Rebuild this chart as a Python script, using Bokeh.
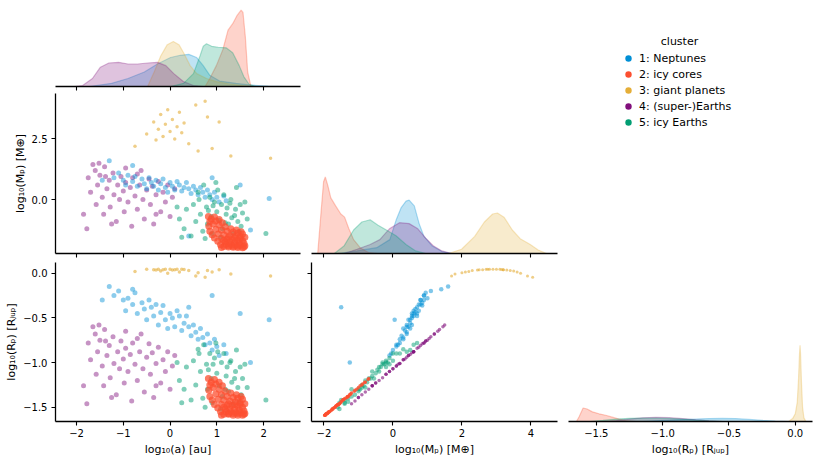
from bokeh.plotting import figure
from bokeh.layouts import row, column, Spacer
from bokeh.models import (Range1d, FixedTicker, CustomJSTickFormatter, LinearAxis,
                          Legend, LegendItem, Label)
from bokeh.embed import file_html
from bokeh.resources import INLINE

FONT = "DejaVu Sans"

# ---------------- categories ----------------
clusters = ["1: Neptunes", "2: icy cores", "3: giant planets", "4: (super-)Earths", "5: icy Earths"]
colors = ["#008fd5", "#fc4f30", "#e5ae38", "#810f7c", "#029e73"]

# ---------------- scatter samples (log10 a [au], log10 M [Mearth], log10 R [RJup]) ----------------
a_c1 = [-1.20, -1.10, -1.00, -0.95, -0.90, -0.80, -0.75, -0.70, -0.60, -0.55, -0.50, -0.45, -0.40, -0.35,
        -0.30, -0.25, -0.20, -0.15, -0.10, -0.05, 0.00, 0.05, 0.10, 0.15, 0.20, 0.25, 0.30, 0.35, 0.40,
        0.45, 0.50, 0.55, 0.60, 0.65, 0.70, 0.75, 0.80, 0.85, 0.90, 0.95, 1.00, 1.05, 1.15, 1.20,
        -1.30, -0.80, 1.72, 2.12, 1.50, 0.90, -1.45, 0.40]
m_c1 = [0.90, 1.10, 0.80, 0.60, 1.00, 0.75, 0.95, 0.55, 0.85, 0.65, 0.45, 0.90, 0.70, 0.55,
        0.80, 0.40, 0.65, 0.85, 0.50, 0.30, 0.70, 0.55, 0.40, 0.75, 0.60, 0.35, 0.50, 0.70, 0.45,
        0.25, 0.55, 0.40, 0.20, 0.50, 0.30, 0.10, 0.40, 0.20, 0.00, 0.30, 0.10, -0.10, 0.15, -0.05,
        1.60, 1.40, -1.25, 0.05, 0.60, 0.90, 0.80, -1.50]
r_c1 = [-0.25, -0.20, -0.30, -0.42, -0.28, -0.35, -0.22, -0.45, -0.33, -0.40, -0.52, -0.30, -0.38, -0.48,
        -0.35, -0.58, -0.44, -0.36, -0.52, -0.62, -0.45, -0.50, -0.60, -0.42, -0.48, -0.64, -0.56, -0.48, -0.60,
        -0.70, -0.58, -0.66, -0.74, -0.62, -0.72, -0.80, -0.68, -0.78, -0.86, -0.74, -0.82, -0.92, -0.80, -0.90,
        -0.15, -0.18, -1.00, -0.52, -0.45, -0.25, -0.30, -0.38]

a_c2 = [1.55, 1.45, 1.35, 1.25, 1.15, 1.60, 1.50, 1.40, 1.30, 1.20, 1.08, 1.58, 1.48, 1.38, 1.28, 1.18,
        1.02, 1.55, 1.45, 1.33, 1.22, 1.10, 0.95, 1.60, 1.50, 1.40, 1.28, 1.15, 1.03, 0.90, 1.55, 1.45,
        1.35, 1.22, 1.10, 0.98, 0.85, 1.30, 1.18, 1.05, 0.92, 0.83, 1.12, 0.98, 0.88, 0.82, 0.95, 1.05,
        0.85, 1.42, 1.52, 1.35, 1.45, 1.25, 1.58, 1.10, 1.38, 1.25, 1.50, 1.15]
m_c2 = [-1.98, -1.97, -1.96, -1.95, -1.93, -1.90, -1.88, -1.87, -1.85, -1.84, -1.86, -1.80, -1.78, -1.76,
        -1.75, -1.74, -1.72, -1.68, -1.66, -1.64, -1.62, -1.60, -1.58, -1.55, -1.52, -1.50, -1.48, -1.45,
        -1.42, -1.45, -1.42, -1.38, -1.33, -1.30, -1.25, -1.22, -1.30, -1.20, -1.12, -1.05, -1.00, -1.10,
        -0.95, -0.88, -0.80, -0.70, -0.72, -0.82, -0.90, -1.25, -1.32, -1.92, -1.92, -1.90, -1.95, -1.97,
        -1.58, -1.55, -1.60, -1.68]
r_c2 = [-1.59, -1.59, -1.59, -1.58, -1.58, -1.57, -1.56, -1.56, -1.55, -1.55, -1.55, -1.54, -1.53, -1.52,
        -1.52, -1.52, -1.51, -1.50, -1.49, -1.48, -1.48, -1.47, -1.47, -1.46, -1.45, -1.44, -1.43, -1.42,
        -1.41, -1.42, -1.41, -1.40, -1.39, -1.38, -1.36, -1.35, -1.38, -1.34, -1.32, -1.30, -1.28, -1.31,
        -1.26, -1.24, -1.22, -1.18, -1.19, -1.22, -1.25, -1.36, -1.38, -1.57, -1.57, -1.57, -1.58, -1.59,
        -1.47, -1.46, -1.47, -1.50]

a_c3 = [-0.50, -0.35, -0.25, -0.20, -0.15, -0.10, -0.05, 0.00, 0.05, 0.10, 0.15, 0.20, 0.25, 0.30,
        0.40, 0.55, 0.75, 0.90, 1.05, 1.30, -0.75, 0.80, 2.15, 0.60, -0.30]
m_c3 = [2.70, 3.20, 2.90, 3.50, 2.60, 3.10, 3.70, 2.80, 3.30, 2.50, 3.00, 3.60, 2.75, 3.15,
        2.30, 3.90, 4.05, 2.10, 3.20, 1.80, 2.20, 3.40, 1.70, 2.00, 2.45]
r_c3 = [0.045, 0.040, 0.045, 0.025, 0.040, 0.045, 0.000, 0.045, 0.035, 0.040, 0.045, 0.015, 0.045, 0.042,
        0.030, -0.030, -0.045, 0.015, 0.040, -0.010, 0.020, 0.030, -0.030, 0.005, 0.035]

a_c4 = [-1.75, -1.70, -1.65, -1.60, -1.58, -1.55, -1.50, -1.45, -1.42, -1.40, -1.35, -1.30, -1.28, -1.22,
        -1.20, -1.15, -1.12, -1.08, -1.05, -1.00, -0.98, -0.95, -0.90, -0.85, -0.82, -0.80, -0.75, -0.70,
        -0.65, -0.62, -0.58, -0.55, -0.50, -0.45, -0.42, -0.38, -0.35, -0.30, -0.25, -0.20, -0.15, -0.10,
        -0.05, 0.00, 0.05, 0.10, -1.85, -1.78, -1.25, -0.95, -1.52, -0.70, -0.30, -1.38]
m_c4 = [0.90, 0.30, 1.45, 1.20, -0.20, 0.60, 1.00, 0.10, -0.60, 1.35, 0.45, 0.80, -0.30, 1.10,
        0.20, -0.90, 0.60, 0.00, 0.95, 0.35, -0.50, 0.70, -0.10, 0.50, -1.10, 0.90, 0.15, -0.40,
        0.60, 1.20, 0.00, -0.80, 0.40, 0.85, -0.20, 0.55, -1.00, 0.20, 0.75, -0.50, 0.30, -0.10,
        0.60, -0.70, 0.10, 0.45, -0.60, -1.20, -1.00, 1.30, 1.50, 1.05, -0.60, 0.95]
r_c4 = [-0.78, -0.97, -0.60, -0.68, -1.13, -0.88, -0.75, -1.04, -1.26, -0.63, -0.92, -0.81, -1.17, -0.71,
        -1.01, -1.36, -0.88, -1.07, -0.76, -0.96, -1.23, -0.84, -1.10, -0.91, -1.43, -0.78, -1.02, -1.20,
        -0.88, -0.68, -1.07, -1.33, -0.94, -0.79, -1.13, -0.89, -1.39, -1.01, -0.83, -1.23, -0.97, -1.10,
        -0.88, -1.30, -1.04, -0.92, -1.26, -1.46, -1.39, -0.65, -0.58, -0.73, -1.26, -0.76]

a_c5 = [0.20, 0.30, 0.35, 0.45, 0.50, 0.55, 0.60, 0.65, 0.70, 0.72, 0.78, 0.80, 0.85, 0.88, 0.90, 0.95,
        1.00, 1.02, 1.05, 1.10, 1.12, 1.15, 1.20, 1.22, 1.25, 1.30, 1.32, 1.35, 1.40, 1.42, 1.45, 1.50,
        1.52, 1.55, 1.60, 1.65, 0.98, 0.75, 0.25, 1.08, 0.15, 0.62, 1.18, 0.92, 1.28, 1.38, 0.82, 1.48, 2.05]
m_c5 = [-0.80, -1.20, -0.40, -1.50, -0.20, -0.90, 0.30, -0.60, -1.30, 0.60, -0.30, -1.00, 0.10, -0.70,
        -1.40, -0.10, -0.50, 0.40, -0.85, -0.20, -1.20, 0.20, -0.60, -0.35, -1.00, 0.00, -0.75, -1.40,
        -0.40, 0.50, -0.90, -0.20, -1.10, -0.55, -0.10, -0.80, 0.70, -1.60, -1.55, -1.55, -0.30, 0.00,
        -0.95, -0.25, -0.15, -0.65, -0.45, -1.30, -1.40]
r_c5 = [-1.20, -1.30, -1.05, -1.42, -0.98, -1.25, -0.85, -1.10, -1.40, -0.80, -1.02, -1.30, -0.90, -1.18,
        -1.45, -0.95, -1.12, -0.88, -1.26, -1.00, -1.38, -0.90, -1.15, -1.05, -1.32, -0.98, -1.22, -1.46,
        -1.10, -0.86, -1.28, -1.05, -1.36, -1.18, -1.02, -1.28, -0.78, -1.50, -1.45, -1.52, -1.00, -0.90,
        -1.30, -1.02, -1.00, -1.18, -1.08, -1.44, -1.42]

a_vals = [a_c1, a_c2, a_c3, a_c4, a_c5]
m_vals = [m_c1, m_c2, m_c3, m_c4, m_c5]
r_vals = [r_c1, r_c2, r_c3, r_c4, r_c5]

# ---------------- KDE curves ----------------
kde_a_x = [
    [-1.73, -1.25, -0.90, -0.55, -0.27, 0.01, 0.22, 0.40, 0.57, 0.71, 0.85, 1.06, 1.41, 1.69, 2.10, 2.50],
    [0.75, 0.85, 0.99, 1.13, 1.24, 1.34, 1.43, 1.52, 1.56, 1.61, 1.66, 1.73],
    [-0.48, -0.34, -0.20, -0.06, 0.07, 0.19, 0.29, 0.43, 0.57, 0.78, 0.99, 1.27, 1.55, 1.80],
    [-2.05, -1.87, -1.66, -1.49, -1.31, -1.10, -0.90, -0.69, -0.48, -0.27, -0.09, 0.08, 0.29, 0.50, 0.71],
    [0.01, 0.29, 0.50, 0.64, 0.71, 0.78, 0.89, 1.03, 1.20, 1.34, 1.48, 1.58, 1.69, 1.83],
]
kde_a_d = [
    [0, 0.033, 0.083, 0.15, 0.233, 0.30, 0.323, 0.333, 0.30, 0.216, 0.116, 0.056, 0.033, 0.016, 0.003, 0],
    [0, 0.083, 0.216, 0.383, 0.583, 0.65, 0.733, 0.79, 0.766, 0.516, 0.15, 0],
    [0, 0.15, 0.316, 0.433, 0.466, 0.433, 0.35, 0.216, 0.133, 0.083, 0.05, 0.026, 0.01, 0],
    [0, 0.01, 0.083, 0.20, 0.243, 0.25, 0.233, 0.233, 0.243, 0.25, 0.216, 0.133, 0.05, 0.01, 0],
    [0, 0.033, 0.133, 0.316, 0.416, 0.443, 0.416, 0.406, 0.40, 0.35, 0.216, 0.10, 0.023, 0],
]
kde_m_x = [
    [-1.61, -1.04, -0.47, -0.09, 0.09, 0.24, 0.38, 0.47, 0.62, 0.76, 0.90, 1.14, 1.42, 1.70],
    [-2.18, -2.08, -2.01, -1.96, -1.89, -1.80, -1.66, -1.51, -1.40, -1.28, -1.14, -0.95, -0.71, -0.45],
    [1.61, 1.99, 2.37, 2.65, 2.89, 3.03, 3.22, 3.46, 3.69, 3.98, 4.21, 4.45],
    [-1.42, -1.04, -0.66, -0.38, -0.09, 0.19, 0.47, 0.71, 0.95, 1.18, 1.42, 1.70],
    [-1.70, -1.42, -1.14, -0.90, -0.66, -0.43, -0.19, 0.09, 0.38, 0.66, 0.95],
]
kde_m_d = [
    [0, 0.027, 0.06, 0.144, 0.344, 0.477, 0.544, 0.554, 0.494, 0.31, 0.177, 0.077, 0.02, 0],
    [0, 0.444, 0.744, 0.794, 0.71, 0.577, 0.494, 0.41, 0.377, 0.26, 0.144, 0.06, 0.01, 0],
    [0, 0.044, 0.177, 0.327, 0.41, 0.42, 0.377, 0.244, 0.154, 0.094, 0.037, 0],
    [0, 0.044, 0.094, 0.144, 0.26, 0.32, 0.31, 0.26, 0.16, 0.077, 0.027, 0],
    [0, 0.077, 0.244, 0.327, 0.35, 0.294, 0.244, 0.184, 0.094, 0.027, 0],
]
kde_r_x = [
    [-1.15, -1.05, -0.95, -0.85, -0.75, -0.65, -0.55, -0.45, -0.35, -0.25, -0.15, -0.05],
    [-1.65, -1.63, -1.60, -1.57, -1.53, -1.48, -1.43, -1.38, -1.33, -1.28, -1.20],
    [-0.05, -0.02, 0.0, 0.015, 0.025, 0.032, 0.036, 0.04, 0.047, 0.055, 0.065, 0.08],
    [-1.45, -1.35, -1.25, -1.15, -1.05, -0.95, -0.85, -0.75, -0.65, -0.55],
    [-1.55, -1.45, -1.35, -1.25, -1.15, -1.05, -0.95, -0.85, -0.75, -0.65, -0.55],
]
kde_r_d = [
    [0, 0.008, 0.015, 0.02, 0.025, 0.03, 0.032, 0.03, 0.022, 0.012, 0.004, 0],
    [0, 0.05, 0.14, 0.13, 0.10, 0.08, 0.065, 0.045, 0.025, 0.01, 0],
    [0, 0.03, 0.08, 0.2, 0.45, 0.7, 0.79, 0.7, 0.4, 0.15, 0.04, 0],
    [0, 0.01, 0.025, 0.038, 0.043, 0.04, 0.03, 0.018, 0.007, 0],
    [0, 0.012, 0.025, 0.033, 0.035, 0.035, 0.032, 0.025, 0.015, 0.006, 0],
]

# ---------------- axes ----------------
a_range = (-2.45, 2.79)
m_xrange = (-2.36, 4.77)
r_xrange = (-1.71, 0.13)
m_yrange = (-2.22, 4.37)
r_yrange = (-1.66, 0.12)
a_ticks = [-2, -1, 0, 1, 2]
m_xticks = [-2, 0, 2, 4]
r_ticks = [-1.5, -1.0, -0.5, 0.0]
m_yticks = [0.0, 2.5]

label_a = "log\u2081\u2080(a) [au]"
label_m = "log\u2081\u2080(M\u209a) [M\u2295]"
label_r = "log\u2081\u2080(R\u209a) [R\u2c7c\u1d64\u209a]"

draw_order = [3, 0, 4, 1, 2]


def make_fig(w, h, lb, rb, tb, bb, xr, yr):
    p = figure(width=w, height=h, x_range=Range1d(*xr), y_range=Range1d(*yr),
               output_backend="svg", toolbar_location=None, title=None,
               min_border_left=lb, min_border_right=rb, min_border_top=tb, min_border_bottom=bb,
               x_axis_location=None, y_axis_location=None)
    p.grid.visible = False
    p.outline_line_color = None
    p.background_fill_color = "white"
    p.border_fill_color = "white"
    return p


def add_axis(p, side, ticks, show_labels, digits=0, label=None):
    ax = LinearAxis(ticker=FixedTicker(ticks=ticks, minor_ticks=[]))
    ax.axis_line_color = "black"
    ax.axis_line_width = 1.3
    ax.major_tick_out = 4
    ax.major_tick_in = 0
    ax.major_tick_line_width = 1.1
    ax.minor_tick_out = 0
    ax.minor_tick_in = 0
    if show_labels:
        ax.formatter = CustomJSTickFormatter(args=dict(d=digits),
                                             code="return tick.toFixed(d).replace('-', '\u2212');")
        ax.major_label_text_font = FONT
        ax.major_label_text_font_size = "10px"
        ax.major_label_text_color = "black"
        ax.major_label_standoff = 3 if side == "below" else 4
    else:
        ax.formatter = CustomJSTickFormatter(code="return '';")
        ax.major_label_text_font_size = "0px"
        ax.major_label_standoff = 0
    if label:
        ax.axis_label = label
        ax.axis_label_text_font = FONT
        ax.axis_label_text_font_size = "11px"
        ax.axis_label_text_font_style = "normal"
        ax.axis_label_text_color = "black"
        ax.axis_label_standoff = 3 if side == "below" else 2
    p.add_layout(ax, side)


def add_kde(p, xs, ds):
    for i in range(5):
        p.varea(x=xs[i], y1=0, y2=ds[i], fill_color=colors[i], fill_alpha=0.25)
        p.line(x=xs[i], y=ds[i], line_color=colors[i], line_alpha=0.3, line_width=1.2)


def add_scatter(p, xs, ys, sizes, alphas):
    for i in draw_order:
        p.scatter(x=xs[i], y=ys[i], size=sizes[i], marker="circle", fill_color=colors[i],
                  line_color=None, fill_alpha=alphas[i])


cloud_sizes = [5, 7, 3.5, 5, 5]
cloud_alphas = [0.45, 0.75, 0.6, 0.45, 0.5]
mr_sizes = [4.5, 3.5, 3, 3.5, 4.5]
mr_alphas = [0.5, 0.8, 0.6, 0.6, 0.5]

# column / row geometry
C1L, C1F, C1R = 55, 245, 5
C2L, C2F, C2R = 6, 246, 5
C3L, C3F, C3R = 6, 244, 2
R1F, R1B = 86, 7
R2F, R2B = 160, 9
R3F, R3B = 159, 39

W1 = C1L + C1F + C1R
W2 = C2L + C2F + C2R
W3 = C3L + C3F + C3R
H1 = R1F + R1B
H2 = R2F + R2B
H3 = R3F + R3B

# row 1: KDE of log a
f11 = make_fig(W1, H1, C1L, C1R, 0, R1B, a_range, (0, 0.89))
add_kde(f11, kde_a_x, kde_a_d)
add_axis(f11, "below", a_ticks, False)

# row 2
f21 = make_fig(W1, H2, C1L, C1R, 0, R2B, a_range, m_yrange)
add_scatter(f21, a_vals, m_vals, cloud_sizes, cloud_alphas)
add_axis(f21, "left", m_yticks, True, 1, label_m)
add_axis(f21, "below", a_ticks, False)

f22 = make_fig(W2, H2, C2L, C2R, 0, R2B, m_xrange, (0, 1.66))
add_kde(f22, kde_m_x, kde_m_d)
add_axis(f22, "below", m_xticks, False)

# row 3
f31 = make_fig(W1, H3, C1L, C1R, 0, R3B, a_range, r_yrange)
add_scatter(f31, a_vals, r_vals, cloud_sizes, cloud_alphas)
add_axis(f31, "left", r_ticks, True, 1, label_r)
add_axis(f31, "below", a_ticks, True, 0, label_a)

f32 = make_fig(W2, H3, C2L, C2R, 0, R3B, m_xrange, r_yrange)
add_scatter(f32, m_vals, r_vals, mr_sizes, mr_alphas)
add_axis(f32, "left", r_ticks, False)
add_axis(f32, "below", m_xticks, True, 0, label_m)

f33 = make_fig(W3, H3, C3L, C3R, 0, R3B, r_xrange, (0, 1.65))
add_kde(f33, kde_r_x, kde_r_d)
add_axis(f33, "below", r_ticks, True, 1, label_r)

# legend panel (column 3, rows 1-2); its renderers hold the cluster data outside the visible range
HL = H1 + H2
fl = make_fig(W3, HL, 0, 0, 0, 0, (100, 101), (100, 101))
items = []
for i in range(5):
    rr = fl.scatter(x=a_vals[i], y=m_vals[i], size=8, marker="circle", fill_color=colors[i],
                    line_color=None, fill_alpha=1.0)
    items.append(LegendItem(label=clusters[i], renderers=[rr]))
leg = Legend(items=items, location=(56, HL - 130), padding=0, margin=0, spacing=0,
             glyph_width=20, glyph_height=16, label_height=16, label_standoff=1,
             label_text_font=FONT, label_text_font_size="11px", label_text_color="black",
             label_text_baseline="middle",
             border_line_color=None, background_fill_alpha=0)
fl.add_layout(leg)
fl.add_layout(Label(x=117, y=HL - 41, x_units="screen", y_units="screen", text="cluster",
                    text_font=FONT, text_font_size="11px", text_align="center",
                    text_baseline="middle", text_color="black"))

left = column(f11, f21, f31)
top_right = row(column(Spacer(width=W2, height=H1), f22), fl)
bottom_right = row(f32, f33)
layout = row(left, column(top_right, bottom_right))

open("out.html", "w").write(file_html(layout, INLINE))
